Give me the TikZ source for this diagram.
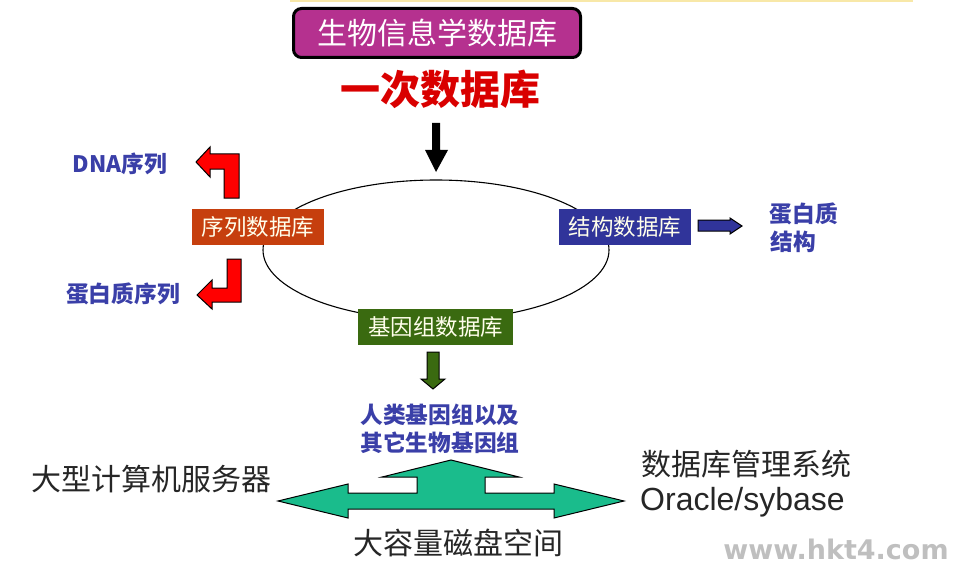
\documentclass[tikz,border=0pt]{standalone}
\usepackage{fontspec}
\setmainfont{Noto Sans CJK SC}
\newfontfamily\latinfont{Liberation Sans}
\newfontfamily\markfont{DejaVu Sans}
\definecolor{titlefill}{HTML}{B5318F}
\definecolor{seqred}{HTML}{C63F0E}
\definecolor{structblue}{HTML}{30349A}
\definecolor{genomegreen}{HTML}{3A6A10}
\definecolor{labelblue}{HTML}{3A3FA8}
\definecolor{tealfill}{HTML}{1ABC8C}
\definecolor{topline}{HTML}{F8E8A8}

\tikzset{
    dbbox/.style={minimum height=36pt, inner sep=0pt, text=white!92!yellow, font=\fontsize{22.5}{22.5}\selectfont},
    bluelabel/.style={text=labelblue, font=\fontsize{22.7}{22.7}\selectfont\bfseries, inner sep=0pt},
    greylabel/.style={text=black!85, font=\fontsize{30}{30}\selectfont, inner sep=0pt}
}
\tikzset{
    blockarrow/.style={draw=black, line width=1pt, line join=miter}
}

\begin{document}
\begin{tikzpicture}[x=1pt, y=1pt]
    \useasboundingbox (0,0) rectangle (960,566);

    \fill[topline] (290,564) rectangle (913,566);

    % ring behind the boxes
    \draw[black, line width=1.1pt] (436,316) ellipse (173 and 70);

    % title
    \node[draw=black, line width=3pt, fill=titlefill, rounded corners=8pt, minimum width=287pt, minimum height=49pt, inner sep=0pt, text=white, font=\fontsize{30}{30}\selectfont] (titlebox) at (437,533) {\raisebox{-2pt}{生物信息学数据库}};
    \node[text=red!85!black, inner sep=0pt, font=\fontsize{40}{40}\selectfont\bfseries] (primary) at (440,477) {一次数据库};

    % three databases
    \node[dbbox, fill=seqred, minimum width=132pt] (seqdb) at (258,339) {序列数据库};
    \node[dbbox, fill=structblue, minimum width=132pt] (structdb) at (625,339) {结构数据库};
    \node[dbbox, fill=genomegreen, minimum width=155pt] (genomedb) at (435.5,239) {基因组数据库};

    % arrows
    \fill[black] (432,443) -- (440,443) -- (440,416) -- (448,416) -- (436,394) -- (425,416) -- (432,416) -- cycle;
    \draw[blockarrow, fill=red] (196,404) -- (210,419) -- (210,412) -- (239,412) -- (239,368) -- (224,368) -- (224,397) -- (210,397) -- (210,389) -- cycle;
    \draw[blockarrow, fill=red] (227,307) -- (241,307) -- (241,264) -- (212,264) -- (212,257) -- (197,271) -- (212,286) -- (212,278) -- (227,278) -- cycle;
    \draw[blockarrow, fill=structblue] (698,346) -- (730,346) -- (730,348) -- (742,340) -- (730,332) -- (730,335) -- (698,335) -- cycle;
    \draw[blockarrow, fill=genomegreen] (427,214) -- (439,214) -- (439,187) -- (445,187) -- (433,177) -- (421,187) -- (427,187) -- cycle;
    \draw[blockarrow, fill=tealfill] (451,106) -- (519,89) -- (485,89) -- (485,73) -- (554,73) -- (554,82) -- (624,65) -- (554,48) -- (554,57) -- (348,57) -- (348,48) -- (278,65) -- (348,82) -- (348,73) -- (417,73) -- (417,89) -- (382,89) -- cycle;

    % what each database holds
    \node[bluelabel] (dnaseq) at (120,402) {DNA序列};
    \node[bluelabel] (proteinseq) at (123,272) {蛋白质序列};
    \node[bluelabel] (proteinone) at (804,352) {蛋白质};
    \node[bluelabel] (proteintwo) at (793,324) {结构};
    \node[bluelabel] (humangenome) at (440,151) {人类基因组以及};
    \node[bluelabel] (othergenome) at (440,123) {其它生物基因组};

    % bottom row
    \node[greylabel] (server) at (151,87) {大型计算机服务器};
    \node[greylabel] (dbms) at (746.5,102) {数据库管理系统};
    \node[greylabel, font=\fontsize{32}{32}\selectfont\latinfont] (oracle) at (742.5,64) {Oracle/sybase};
    \node[greylabel] (disk) at (458.5,23) {大容量磁盘空间};

    \node[text=black!25, inner sep=0pt, font=\fontsize{27}{27}\selectfont\markfont\bfseries] (watermark) at (836,17) {www.hkt4.com};
\end{tikzpicture}
\end{document}
